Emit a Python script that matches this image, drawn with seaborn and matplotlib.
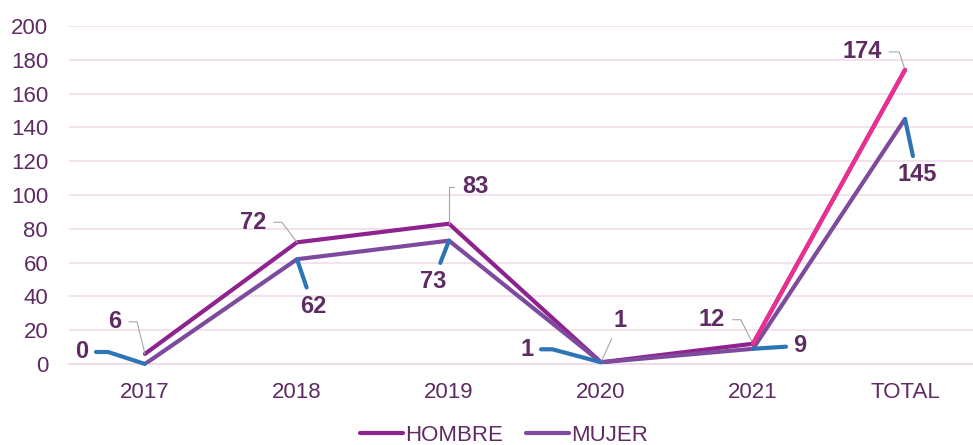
import pandas as pd
import matplotlib.pyplot as plt
import seaborn as sns

sns.set_style("white")
plt.rcParams['font.family'] = ['Liberation Sans', 'DejaVu Sans']

# data
categorias = ['2017', '2018', '2019', '2020', '2021', 'TOTAL']
hombre = [6, 72, 83, 1, 12, 174]
mujer = [0, 62, 73, 1, 9, 145]

# label offsets in pixels (label centre relative to point) and leader shape
off_h = [(-30, 32), (-44, 20), (26, 37), (19, 42), (-41, 24), (-43, 18)]
con_h = ['angle,angleA=0,angleB=104,rad=0', 'angle,angleA=0,angleB=127,rad=0',
         'angle,angleA=0,angleB=90,rad=0', 'arc3', 'angle,angleA=0,angleB=117,rad=0',
         'angle,angleA=0,angleB=108,rad=0']
off_m = [(-63, 12), (16, -47), (-16, -41), (-74, 13), (47, 3), (12, -56)]
con_m = ['angle,angleA=0,angleB=162,rad=0', 'arc3', 'arc3',
         'angle,angleA=0,angleB=165,rad=0', 'arc3', 'arc3']

txt = '#5E2B62'
c_h = '#8E2390'
c_m = '#7E4A9E'
c_total = '#EC2F8F'
c_lead = '#2E75B6'

df = pd.DataFrame({
    'x': list(range(len(categorias))) * 2,
    'valor': hombre + mujer,
    'sexo': ['HOMBRE'] * len(hombre) + ['MUJER'] * len(mujer),
})

fig = plt.figure(figsize=(9.73, 4.45), dpi=100)
ax = fig.add_axes([69 / 973, 81 / 445, 912 / 973, 338 / 445])

sns.lineplot(data=df, x='x', y='valor', hue='sexo',
             palette={'HOMBRE': c_h, 'MUJER': c_m}, linewidth=3, ax=ax,
             legend=False, zorder=3)
# last HOMBRE segment is pink in the original
ax.plot([4, 5], hombre[4:], color=c_total, linewidth=3, zorder=4,
        solid_capstyle='round')

ax.set_xlim(-0.5, 5.5)
ax.set_ylim(0, 200)
ax.set_yticks(range(0, 201, 20))
ax.set_xticks(range(6))
ax.set_xticklabels(categorias)
ax.set_xticks([i + 0.5 for i in range(-1, 6)], minor=True)
ax.grid(axis='y', color='#F2DCEB', linewidth=1.2)
ax.set_axisbelow(True)
for s in ['top', 'right', 'left']:
    ax.spines[s].set_visible(False)
ax.spines['bottom'].set_color('#F0D8E8')
ax.spines['bottom'].set_linewidth(1.2)
ax.tick_params(axis='x', which='major', length=0, pad=13, labelsize=16, labelcolor=txt)
ax.tick_params(axis='x', which='minor', length=6, color='#F0D8E8', width=1.2)
ax.tick_params(axis='y', length=0, pad=15, labelsize=16, labelcolor=txt)
ax.set_xlabel('')
ax.set_ylabel('')

for i, v in enumerate(hombre):
    ax.annotate(str(v), (i, v), xytext=off_h[i], textcoords='offset pixels',
                ha='center', va='center', fontsize=17, fontweight='bold', color=txt,
                annotation_clip=False,
                arrowprops=dict(arrowstyle='-', color='#A6A6A6', lw=0.8,
                                shrinkA=3, shrinkB=0, connectionstyle=con_h[i]))
for i, v in enumerate(mujer):
    ax.annotate(str(v), (i, v), xytext=off_m[i], textcoords='offset pixels',
                ha='center', va='center', fontsize=17, fontweight='bold', color=txt,
                annotation_clip=False,
                arrowprops=dict(arrowstyle='-', color=c_lead, lw=3,
                                shrinkA=3, shrinkB=0, connectionstyle=con_m[i]))

handles = [plt.Line2D([], [], color=c_h, linewidth=3),
           plt.Line2D([], [], color=c_m, linewidth=3)]
leg = fig.legend(handles, ['HOMBRE', 'MUJER'], loc='center', ncol=2,
                 bbox_to_anchor=(0.518, 0.022), frameon=False, fontsize=16,
                 handlelength=1.95, handletextpad=0.1, columnspacing=1.0)
for t in leg.get_texts():
    t.set_color(txt)

fig.savefig('out.png', dpi=100)
